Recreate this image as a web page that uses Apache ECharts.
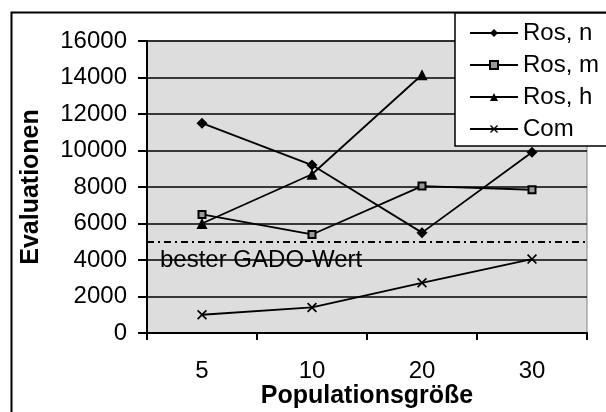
<!DOCTYPE html>
<html><head><meta charset="utf-8">
<script src="https://cdn.jsdelivr.net/npm/echarts@6/dist/echarts.min.js"></script>
<style>html,body{margin:0;padding:0;background:#fff}#c{width:606px;height:412px}</style>
</head><body><div id="c"></div>
<script>
const categories = ['5', '10', '20', '30'];
const rosN = [11500, 9200, 5500, 9900];
const rosM = [6500, 5400, 8050, 7850];
const rosH = [6000, 8700, 14150, null];
const com = [1000, 1400, 2750, 4050];
const gadoValue = 5000;
const gadoLabel = 'bester GADO-Wert';
const yTicks = { min: 0, max: 16000, interval: 2000 };

const FONT = "'Liberation Sans', Arial, sans-serif";
const FS = 24;
const crossPath = 'path://M0,1.2L1.2,0L5,3.8L8.8,0L10,1.2L6.2,5L10,8.8L8.8,10L5,6.2L1.2,10L0,8.8L3.8,5Z';

function mkSeries(name, data, symbol, size, extra) {
  return Object.assign({
    name, type: 'line', data, symbol, symbolSize: size,
    showSymbol: true, connectNulls: false,
    lineStyle: { color: '#000', width: 1.8 },
    itemStyle: { color: '#000', borderColor: '#000', borderWidth: 0 },
    emphasis: { disabled: true },
    animation: false, z: 5
  }, extra || {});
}

const chart = echarts.init(document.getElementById('c'), null, { renderer: 'canvas' });
chart.setOption({
  animation: false,
  textStyle: { fontFamily: FONT, color: '#000' },
  graphic: [{
    type: 'rect', left: 9, top: 10, shape: { width: 620, height: 420 },
    style: { fill: 'none', stroke: '#000', lineWidth: 2 }, z: -10, silent: true
  }],
  grid: {
    left: 147, top: 41, width: 440, height: 292,
    outerBoundsMode: 'none', containLabel: false,
    show: true, backgroundColor: '#dddddd', borderColor: '#808080', borderWidth: 1
  },
  legend: {
    orient: 'vertical', left: 455, top: 13,
    backgroundColor: '#fff', borderColor: '#000', borderWidth: 1.5, borderRadius: 0,
    padding: [8, 40, 5, 14],
    itemWidth: 48, itemHeight: 10, itemGap: 8,
    textStyle: { fontFamily: FONT, fontSize: FS, color: '#000' },
    data: ['Ros, n', 'Ros, m', 'Ros, h', 'Com'],
    z: 20
  },
  xAxis: {
    type: 'category', data: categories, boundaryGap: true,
    name: 'Populationsgröße', nameLocation: 'middle', nameGap: 51, nameMoveOverlap: false,
    nameTextStyle: { fontFamily: FONT, fontSize: 25, fontWeight: 'bold', color: '#000' },
    axisLine: { lineStyle: { color: '#000', width: 2 } },
    axisTick: { show: true, length: 7, inside: false, lineStyle: { color: '#000', width: 2 } },
    axisLabel: { fontFamily: FONT, fontSize: FS, color: '#000', margin: 26 },
    splitLine: { show: false }
  },
  yAxis: {
    type: 'value', min: yTicks.min, max: yTicks.max, interval: yTicks.interval,
    name: 'Evaluationen', nameLocation: 'middle', nameGap: 103, nameRotate: 90, nameMoveOverlap: false,
    nameTextStyle: { fontFamily: FONT, fontSize: 25, fontWeight: 'bold', color: '#000' },
    axisLine: { show: true, lineStyle: { color: '#000', width: 2 } },
    axisTick: { show: true, length: 9, inside: false, lineStyle: { color: '#000', width: 2 } },
    axisLabel: { fontFamily: FONT, fontSize: FS, color: '#000', margin: 20, formatter: v => String(v) },
    splitLine: { show: true, lineStyle: { color: '#000', width: 1.5 } }
  },
  series: [
    mkSeries('Ros, n', rosN, 'diamond', 11),
    mkSeries('Ros, m', rosM, 'rect', 7, { itemStyle: { color: '#999', borderColor: '#000', borderWidth: 2 } }),
    mkSeries('Ros, h', rosH, 'triangle', 11),
    mkSeries('Com', com, crossPath, 10, {
      markLine: {
        silent: true, symbol: ['none', 'none'], animation: false,
        lineStyle: { color: '#000', width: 2, type: [7, 4, 2, 4] },
        label: {
          show: true, position: 'insideStartBottom', formatter: gadoLabel,
          fontFamily: FONT, fontSize: FS, color: '#000', distance: [13, 7]
        },
        data: [{ yAxis: gadoValue }]
      }
    })
  ]
});
</script></body></html>
